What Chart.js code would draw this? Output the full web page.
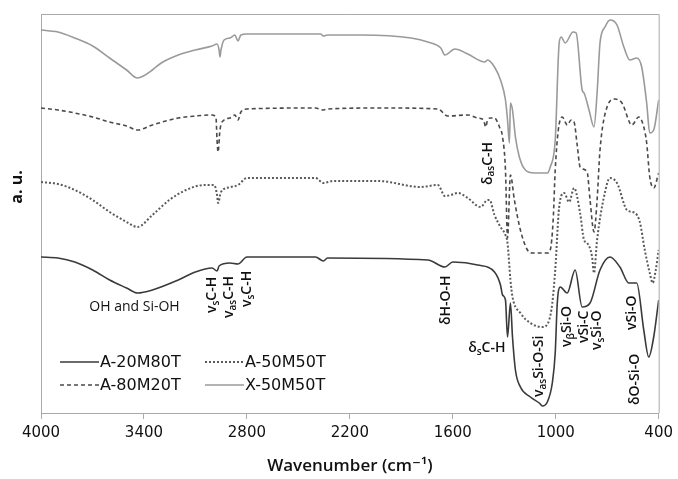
<!DOCTYPE html>
<html>
<head>
<meta charset="utf-8">
<script src="https://cdn.jsdelivr.net/npm/chart.js@4.4.0/dist/chart.umd.min.js"></script>
<style>
  html, body { margin: 0; padding: 0; background: #fff; }
  #wrap { width: 678px; height: 479px; }
</style>
</head>
<body>
<div id="wrap"><canvas id="ftir" width="678" height="479"></canvas></div>
<script>
// wavenumber (cm-1) and a.u. values, top trace first
const wnX50 = [4000,3948,3901,3803,3699,3600,3501,3438,3403,3351,3299,3200,3101,3003,2974,2962,2957,2951,2933,2899,2870,2852,2835,2800,2499,2370,2354,2330,2133,1843,1745,1670,1646,1588,1513,1414,1397,1357,1322,1293,1281,1270,1264,1252,1235,1212,1177,1125,1049,1032,1003,980,968,945,899,881,846,835,806,777,759,742,713,684,643,603,568,528,499,470,452,429,400];
const valX50 = [383,382,381,375,367,355,343,335,337,343,350,358,363,367,369,363,356,363,373,375,378,372,378,379,379,379,377,378,378,375,371,365,358,364,359,351,353,346,333,313,293,270,310,303,276,256,243,240,240,246,273,370,376,370,381,380,323,320,303,286,320,370,386,393,388,366,353,355,346,310,280,283,313];

const wnA80 = [4000,3901,3803,3699,3600,3501,3438,3351,3200,3101,3003,2980,2974,2968,2957,2933,2899,2870,2852,2835,2800,2400,2354,2330,2000,1687,1629,1513,1455,1420,1409,1397,1380,1357,1328,1310,1293,1281,1264,1241,1206,1165,1136,1049,1032,1015,1003,985,962,945,933,910,893,875,858,817,800,777,759,742,701,655,614,556,516,487,470,452,429,400];
const valA80 = [305,303,300,296,291,287,283,288,295,297,298,295,273,261,283,293,295,298,293,301,304,305,303,304,305,304,297,298,295,293,286,293,295,295,286,276,243,175,238,213,183,163,160,160,163,193,243,283,296,291,288,293,291,268,246,241,213,181,213,263,306,314,310,288,296,286,270,236,225,240];

const wnA50 = [4000,3901,3803,3699,3600,3501,3438,3351,3252,3154,3049,2991,2974,2968,2951,2893,2852,2800,2400,2354,2296,2035,1786,1687,1646,1612,1571,1513,1438,1397,1386,1357,1322,1293,1281,1264,1252,1206,1148,1078,1038,1020,1003,980,951,922,893,858,835,817,788,777,759,719,684,643,585,539,510,481,452,435,417,400];
const valA50 = [231,229,223,213,201,191,186,198,213,223,228,228,218,210,221,226,228,235,235,230,232,232,226,228,217,218,220,215,206,213,213,198,186,178,170,133,116,100,90,86,93,110,143,206,220,211,225,200,173,170,156,140,173,216,235,230,203,200,191,163,140,130,143,163];

const wnA20 = [4000,3901,3803,3699,3600,3501,3438,3351,3200,3101,3003,2974,2962,2899,2852,2800,2400,2354,2330,1745,1646,1600,1455,1357,1322,1310,1293,1281,1264,1252,1235,1206,1148,1096,1078,1049,1020,1003,991,974,933,887,846,800,742,684,626,574,528,487,458,429,400];
const valA20 = [156,155,151,143,133,125,120,123,133,141,145,142,147,150,149,156,156,152,155,153,146,151,148,141,128,118,113,76,110,76,43,26,16,10,7,11,30,60,110,126,120,143,106,110,143,156,146,130,130,83,56,76,113];

const xTicks = [4000, 3400, 2800, 2200, 1600, 1000, 400];

// band assignments: [wavenumber, a.u. anchor, text parts, rotated]
const notes = [
  [3455, 106, [['OH and Si-OH']], false],
  [3003, 100, [['v'], ['s', 1], ['C-H']], true],
  [2904, 95, [['v'], ['as', 1], ['C-H']], true],
  [2800, 106, [['v'], ['s', 1], ['C-H']], true],
  [1397, 228, [['δ'], ['as', 1], ['C-H']], true],
  [1641, 88, [['δH-O-H']], true],
  [1293, 65, [['δ'], ['s', 1], ['C-H']], false],
  [1096, 16, [['v'], ['as', 1], ['Si-O-Si']], true],
  [933, 66, [['v'], ['β', 1], ['Si-O']], true],
  [835, 70, [['vSi-C']], true],
  [759, 63, [['v'], ['s', 1], ['Si-O']], true],
  [557, 83, [['vSi-O']], true],
  [539, 8, [['δO-Si-O']], true]
];

const FONT = "'Open Sans', 'DejaVu Sans', sans-serif";
const WIDE = "'DejaVu Sans', sans-serif";
const toPts = (wn, val) => wn.map((w, i) => ({ x: w, y: val[i] }));

const series = [
  { label: 'A-20M80T', data: toPts(wnA20, valA20), borderColor: '#3a3a3a', borderWidth: 1.6, borderDash: [] },
  { label: 'A-50M50T', data: toPts(wnA50, valA50), borderColor: '#5a5a5a', borderWidth: 2, borderDash: [2, 2] },
  { label: 'A-80M20T', data: toPts(wnA80, valA80), borderColor: '#4a4a4a', borderWidth: 1.6, borderDash: [4, 3] },
  { label: 'X-50M50T', data: toPts(wnX50, valX50), borderColor: '#9a9a9a', borderWidth: 1.6, borderDash: [] }
];

function drawParts(ctx, parts, bold) {
  let x = 0;
  parts.forEach(p => {
    const sub = p[1] === 1;
    ctx.font = (bold ? '600 ' : '') + (sub ? '10px ' : '14px ') + FONT;
    ctx.fillText(p[0], x, sub ? 4 : 0);
    x += ctx.measureText(p[0]).width;
  });
  return x;
}

function partsWidth(ctx, parts, bold) {
  let w = 0;
  parts.forEach(p => {
    ctx.font = (bold ? '600 ' : '') + (p[1] === 1 ? '10px ' : '14px ') + FONT;
    w += ctx.measureText(p[0]).width;
  });
  return w;
}

const extras = {
  id: 'extras',
  afterDraw(chart) {
    const { ctx, chartArea: a, scales } = chart;
    ctx.save();
    // top and right frame
    ctx.strokeStyle = '#aaa';
    ctx.lineWidth = 1;
    ctx.beginPath();
    ctx.moveTo(a.left, a.top + 0.5);
    ctx.lineTo(a.right + 0.5, a.top + 0.5);
    ctx.lineTo(a.right + 0.5, a.bottom);
    ctx.stroke();

    // y label
    ctx.fillStyle = '#111';
    ctx.save();
    ctx.translate(17, 187);
    ctx.rotate(-Math.PI / 2);
    ctx.font = 'bold 16px ' + FONT;
    ctx.textAlign = 'center';
    ctx.textBaseline = 'middle';
    ctx.fillText('a. u.', 0, 0);
    ctx.restore();

    // band labels
    ctx.textBaseline = 'middle';
    ctx.textAlign = 'left';
    notes.forEach(n => {
      const px = scales.x.getPixelForValue(n[0]);
      const py = scales.y.getPixelForValue(n[1]);
      const bold = n[3] || n[2].length > 1;
      ctx.save();
      if (n[3]) {
        ctx.translate(px, py);
        ctx.rotate(-Math.PI / 2);
      } else {
        const w = partsWidth(ctx, n[2], bold);
        const off = n[2].length === 1 ? -w / 2 : -w;
        ctx.translate(px + off, py);
      }
      drawParts(ctx, n[2], bold);
      ctx.restore();
    });

    // legend, two columns
    ctx.font = '16px ' + WIDE;
    ctx.textBaseline = 'middle';
    chart.data.datasets.forEach((ds, i) => {
      const col = i % 2, row = Math.floor(i / 2);
      const lx = a.left + 19 + col * 145;
      const ly = a.top + 348 + row * 23;
      ctx.strokeStyle = ds.borderColor;
      ctx.lineWidth = ds.borderWidth;
      ctx.setLineDash(ds.borderDash);
      ctx.beginPath();
      ctx.moveTo(lx, ly);
      ctx.lineTo(lx + 39, ly);
      ctx.stroke();
      ctx.setLineDash([]);
      ctx.fillStyle = '#111';
      ctx.fillText(ds.label, lx + 40, ly + 1);
    });
    ctx.restore();
  }
};

new Chart(document.getElementById('ftir'), {
  type: 'line',
  data: {
    datasets: series.map(s => ({
      label: s.label,
      data: s.data,
      borderColor: s.borderColor,
      borderWidth: s.borderWidth,
      borderDash: s.borderDash,
      pointRadius: 0,
      fill: false,
      cubicInterpolationMode: 'monotone'
    }))
  },
  options: {
    responsive: false,
    animation: false,
    devicePixelRatio: 1,
    layout: { padding: { left: 41, top: 14, right: 16, bottom: 0 } },
    plugins: { legend: { display: false }, tooltip: { enabled: false } },
    scales: {
      x: {
        type: 'linear',
        reverse: true,
        min: 400,
        max: 4000,
        afterBuildTicks: s => { s.ticks = xTicks.map(v => ({ value: v })); },
        ticks: {
          color: '#111',
          font: { family: WIDE, size: 15 },
          padding: 5,
          maxRotation: 0,
          callback: v => String(v)
        },
        grid: { drawOnChartArea: false, drawTicks: true, tickLength: 6, color: '#aaa' },
        border: { color: '#aaa' },
        title: {
          display: true,
          text: 'Wavenumber (cm⁻¹)',
          color: '#111',
          font: { family: FONT, size: 17, weight: '600' },
          padding: { top: 4, bottom: 3 }
        },
        afterFit: s => { s.height = 66; }
      },
      y: {
        min: 0,
        max: 399,
        ticks: { display: false },
        grid: { display: false },
        border: { color: '#aaa' },
        afterFit: s => { s.width = 0; }
      }
    }
  },
  plugins: [extras]
});
</script>
</body>
</html>
